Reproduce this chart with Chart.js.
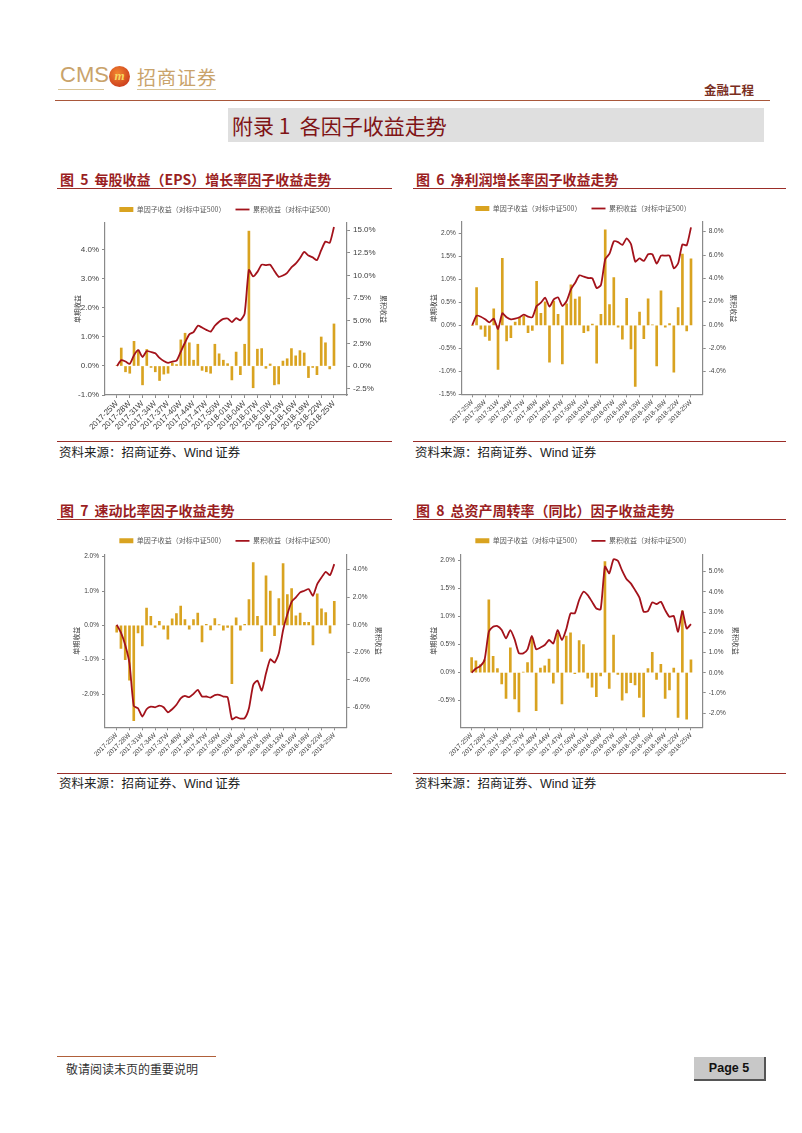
<!DOCTYPE html>
<html>
<head>
<meta charset="utf-8">
<script src="https://cdn.jsdelivr.net/npm/chart.js@4.4.1/dist/chart.umd.min.js"></script>
<style>
  body { margin: 0; background: #fff; }
  #page { position: relative; width: 802px; height: 1133px; overflow: hidden; font-family: "Noto Sans CJK SC", sans-serif; }
  .abs { position: absolute; white-space: nowrap; }
  .fig-title { position: absolute; font-size: 14px; font-weight: bold; color: #9a1e22; line-height: 16px; white-space: nowrap; word-spacing: 3px; }
  .rule { position: absolute; height: 0; border-top: 1px solid #9b2d28; }
  .src { position: absolute; font-size: 12.5px; color: #222; line-height: 14px; white-space: nowrap; }
  .src span { font-family: "Liberation Sans", sans-serif; }
  canvas { position: absolute; }
</style>
</head>
<body>
<div id="page">
  <!-- header -->
  <div class="abs" style="left:60px;top:62px;font:22px 'Liberation Sans Narrow','Liberation Sans',sans-serif;color:#c9a36b;">CMS</div>
  <div class="abs" style="left:109px;top:66px;width:21px;height:21px;border-radius:50%;background:radial-gradient(circle at 40% 35%,#f3862e,#c0281a);color:#f8d860;font:italic bold 13px 'Liberation Serif',serif;text-align:center;line-height:20px;">m</div>
  <div class="abs" style="left:137px;top:63px;font-size:19px;color:#c9a36b;letter-spacing:1px;">招商证券</div>
  <div class="rule" style="left:58px;top:89px;width:46px;border-color:#d9c596;"></div>
  <div class="rule" style="left:137px;top:89px;width:79px;border-color:#d9c596;"></div>
  <div class="abs" style="left:704px;top:80px;font-size:12.5px;font-weight:bold;color:#7a2e1e;">金融工程</div>
  <div class="rule" style="left:55px;top:100px;width:715px;border-color:#a9573a;"></div>

  <div class="abs" style="left:228px;top:108px;width:536px;height:34px;background:#dfdfdf;"></div>
  <div class="abs" style="left:232px;top:110px;font-size:21px;line-height:30px;color:#7f1416;">附录 1&nbsp; 各因子收益走势</div>

  <!-- figure 5 / 6 -->
  <div class="fig-title" style="left:60px;top:171px;">图 5 每股收益（EPS）增长率因子收益走势</div>
  <div class="rule" style="left:57px;top:188px;width:335px;"></div>
  <div class="fig-title" style="left:416px;top:171px;">图 6 净利润增长率因子收益走势</div>
  <div class="rule" style="left:413px;top:188px;width:373px;"></div>

  <canvas id="c5" width="340" height="243" style="left:57px;top:195px;"></canvas>
  <canvas id="c6" width="340" height="243" style="left:413px;top:195px;"></canvas>

  <div class="rule" style="left:57px;top:441px;width:335px;"></div>
  <div class="src" style="left:59px;top:445px;">资料来源：招商证券、<span>Wind</span> 证券</div>
  <div class="rule" style="left:413px;top:441px;width:373px;"></div>
  <div class="src" style="left:415px;top:445px;">资料来源：招商证券、<span>Wind</span> 证券</div>

  <!-- figure 7 / 8 -->
  <div class="fig-title" style="left:60px;top:502px;">图 7 速动比率因子收益走势</div>
  <div class="rule" style="left:57px;top:519px;width:335px;"></div>
  <div class="fig-title" style="left:416px;top:502px;">图 8 总资产周转率（同比）因子收益走势</div>
  <div class="rule" style="left:413px;top:519px;width:373px;"></div>

  <canvas id="c7" width="340" height="243" style="left:57px;top:525px;"></canvas>
  <canvas id="c8" width="340" height="243" style="left:413px;top:525px;"></canvas>

  <div class="rule" style="left:57px;top:773px;width:335px;"></div>
  <div class="src" style="left:59px;top:776px;">资料来源：招商证券、<span>Wind</span> 证券</div>
  <div class="rule" style="left:413px;top:773px;width:373px;"></div>
  <div class="src" style="left:415px;top:776px;">资料来源：招商证券、<span>Wind</span> 证券</div>

  <!-- footer -->
  <div class="rule" style="left:57px;top:1056px;width:159px;border-color:#b0603a;"></div>
  <div class="abs" style="left:66px;top:1061px;font-size:12px;line-height:16px;color:#333;">敬请阅读末页的重要说明</div>
  <div class="abs" style="left:694px;top:1057px;width:70px;height:22px;background:#c8c8c8;border-right:2px solid #555;border-bottom:2px solid #555;font:bold 12.5px 'Liberation Sans',sans-serif;line-height:22px;text-align:center;color:#111;">Page 5</div>
</div>

<script>
const weeks = [
  "2017-25W", "2017-26W", "2017-27W", "2017-28W", "2017-29W", "2017-30W", "2017-31W", "2017-32W", "2017-33W",
  "2017-34W", "2017-35W", "2017-36W", "2017-37W", "2017-38W", "2017-39W", "2017-40W", "2017-42W", "2017-43W",
  "2017-44W", "2017-45W", "2017-46W", "2017-47W", "2017-48W", "2017-49W", "2017-50W", "2017-51W", "2017-52W",
  "2018-01W", "2018-02W", "2018-03W", "2018-04W", "2018-05W", "2018-06W", "2018-07W", "2018-08W", "2018-09W",
  "2018-10W", "2018-11W", "2018-12W", "2018-13W", "2018-14W", "2018-15W", "2018-16W", "2018-17W", "2018-18W",
  "2018-19W", "2018-20W", "2018-21W", "2018-22W", "2018-23W", "2018-24W", "2018-25W",
];
// every third week gets a label
const tickIdx = [0, 3, 6, 9, 12, 15, 18, 21, 24, 27, 30, 33, 36, 39, 42, 45, 48, 51];

// 图5 每股收益（EPS）增长率
const epsBars = [
  0.02, 0.62, -0.2, -0.25, 0.85, 0.55, -0.65, 0.57, -0.05, -0.2,
  -0.5, -0.28, -0.25, 0.1, 0.05, 0.9, 1.13, 0.8, 0.2, 0.75,
  -0.15, -0.2, -0.25, 0.75, 0.42, 0.2, 0.08, -0.48, 0.48, -0.3,
  0.75, 4.65, -0.75, 0.58, 0.6, -0.08, 0.07, -0.65, -0.62, 0.17,
  0.25, 0.6, 0.35, 0.53, 0.45, -0.4, -0.05, -0.3, 1.0, 0.8,
  -0.1, 1.45,
];
const epsLine = [
  0, 0.65, 0.5, 0.25, 1.2, 1.75, 1.0, 1.65, 1.55, 1.4,
  0.9, 0.55, 0.35, 0.5, 0.6, 1.6, 2.6, 3.5, 3.75, 4.45,
  4.25, 4.0, 3.8, 4.45, 4.9, 5.2, 5.25, 4.85, 5.3, 5.05,
  5.8, 10.6, 9.9, 10.4, 11.2, 11.15, 11.2, 10.5, 9.85, 10.0,
  10.3, 10.9, 11.3, 11.9, 12.6, 12.2, 12.0, 11.7, 12.8, 13.75,
  13.6, 15.35,
];

// 图6 净利润增长率
const npBars = [
  0.0, 0.82, -0.08, -0.24, -0.33, 0.36, -0.96, 1.46, -0.34, -0.27,
  0.07, 0.17, 0.2, -0.16, -0.11, 0.96, 0.26, 0.51, -0.8, 0.53,
  0.24, -0.84, 0.47, 0.88, 0.57, 0.62, -0.16, -0.12, 0.03, -0.82,
  0.24, 2.08, 0.45, 1.04, -0.04, -0.3, 0.59, -0.51, -1.33, 0.29,
  -0.29, 0.58, 0.01, -0.88, 0.75, -0.04, 0.04, -1.02, 0.39, 1.55,
  -0.12, 1.45,
];
const npLine = [
  0, 0.8, 0.71, 0.49, 0.23, 0.54, -0.34, 1.0, 0.66, 0.49,
  0.54, 0.66, 0.89, 0.71, 0.66, 1.63, 1.91, 2.34, 1.57, 2.2,
  2.37, 1.63, 2.06, 3.06, 3.63, 4.26, 4.14, 4.03, 4.0, 3.17,
  3.43, 5.63, 6.11, 7.17, 7.11, 6.86, 7.43, 6.94, 5.43, 5.71,
  5.49, 6.06, 6.06, 5.26, 5.94, 5.94, 5.94, 4.86, 5.29, 6.91,
  6.83, 8.37,
];

// 图7 速动比率
const qrBars = [
  -0.2, -0.67, -1.0, -1.6, -2.78, -0.22, -0.6, 0.5, 0.26, -0.06,
  0.12, -0.11, -0.4, 0.19, 0.34, 0.56, 0.17, -0.11, 0.17, 0.36,
  -0.48, 0.03, -0.13, 0.2, 0.02, -0.14, -0.06, -1.7, 0.22, -0.14,
  0.03, 0.75, 1.83, 0.26, -0.76, 1.44, 1.0, -0.3, 0.78, 1.8,
  0.9, 1.07, 0.28, 0.36, 0.09, 0.09, -0.57, 0.92, 0.48, 0.37,
  -0.23, 0.7,
];
const qrLine = [
  0, -0.58, -1.47, -2.8, -5.88, -6.05, -6.65, -6.12, -5.93, -5.98,
  -5.86, -5.98, -6.34, -6.12, -5.8, -5.33, -5.16, -5.25, -5.01, -4.72,
  -5.2, -5.2, -5.28, -5.1, -5.08, -5.2, -5.25, -6.84, -6.7, -6.8,
  -6.77, -6.05, -4.36, -4.05, -4.77, -3.52, -2.5, -2.75, -2.07, -0.4,
  0.75, 1.66, 1.98, 2.34, 2.46, 2.58, 2.1, 2.94, 3.42, 3.83,
  3.59, 4.39,
];

// 图8 总资产周转率（同比）
const tatBars = [
  0.27, 0.21, 0.14, 0.23, 1.3, 0.29, 0.07, -0.2, -0.46, 0.44,
  -0.47, -0.7, 0.01, 0.18, 0.63, -0.68, 0.08, 0.12, 0.24, -0.19,
  0.7, -0.56, 0.65, 0.71, -0.02, 0.57, 0.5, -0.1, -0.26, -0.43,
  -0.06, 1.98, -0.28, 0.67, -0.03, -0.49, -0.36, -0.18, -0.22, -0.44,
  -0.79, 0.07, 0.36, -0.12, 0.15, -0.46, -0.31, 0.08, -0.8, 1.1,
  -0.83, 0.23,
];
const tatLine = [
  0, 0.21, 0.33, 0.63, 2.03, 2.28, 2.31, 2.11, 1.7, 2.11,
  1.65, 0.96, 0.96, 1.16, 1.82, 1.16, 1.25, 1.37, 1.62, 1.45,
  2.11, 1.62, 2.15, 2.94, 2.94, 3.6, 4.01, 3.84, 3.51, 3.18,
  3.14, 5.25, 4.92, 5.61, 5.54, 5.05, 4.64, 4.42, 4.09, 3.73,
  3.02, 3.05, 3.48, 3.4, 3.51, 3.1, 2.77, 2.81, 2.03, 3.05,
  2.19, 2.41,
];

const GOLD = "#d9a320";
const RED = "#a3121b";
const AXIS = "#8a8a8a";
const TXT = "#404040";
const LAT = "'Liberation Sans', 'Noto Sans CJK SC', sans-serif";
const CJK = "'Noto Sans CJK SC', sans-serif";

const pct = (v) => v.toFixed(1) + "%";

function makeChart(id, bars, line, o) {
  return new Chart(document.getElementById(id), {
    type: "bar",
    data: {
      datasets: [
        {
          type: "bar",
          label: "单因子收益（对标中证500）",
          data: bars.map((v, i) => ({ x: i, y: v })),
          backgroundColor: GOLD,
          barThickness: 2,
          yAxisID: "y",
          order: 1,
          pointStyle: "rect",
        },
        {
          type: "line",
          label: "累积收益（对标中证500）",
          data: line.map((v, i) => ({ x: i, y: v })),
          borderColor: RED,
          borderWidth: 1.8,
          pointRadius: 0,
          pointBorderColor: RED,
          pointBorderWidth: 1.8,
          pointStyle: "line",
          tension: 0.2,
          yAxisID: "y1",
          order: 0,
        },
      ],
    },
    options: {
      responsive: false,
      animation: false,
      layout: { padding: { top: o.padTop } },
      plugins: {
        tooltip: { enabled: false },
        legend: {
          labels: {
            usePointStyle: true,
            pointStyleWidth: 14,
            boxHeight: 5,
            padding: 10,
            color: "#595959",
            font: { size: 7, family: CJK },
            sort: (a, b) => a.datasetIndex - b.datasetIndex,
          },
        },
      },
      scales: {
        x: {
          type: "linear",
          min: o.xMin,
          max: o.xMax,
          offset: false,
          afterBuildTicks: (s) => {
            s.ticks = tickIdx.map((v) => ({ value: v }));
          },
          afterFit: (s) => {
            s.height = o.bottomH;
          },
          grid: { offset: false, drawOnChartArea: false, tickLength: 3, color: AXIS },
          border: { color: AXIS, width: 1.2 },
          ticks: {
            autoSkip: false,
            maxRotation: 45,
            minRotation: 45,
            padding: 1,
            color: TXT,
            font: { size: o.xfs, family: LAT },
            callback: (v) => weeks[v],
          },
        },
        y: {
          position: "left",
          min: o.yMin,
          max: o.yMax,
          afterFit: (s) => {
            s.width = o.leftW;
          },
          grid: { drawOnChartArea: false, tickLength: 3, color: AXIS },
          border: { color: AXIS, width: 1.2 },
          ticks: {
            stepSize: o.yStep,
            includeBounds: false,
            padding: 3,
            color: TXT,
            font: { size: o.fs, family: LAT },
            callback: pct,
          },
          title: {
            display: true,
            text: "单期收益",
            color: TXT,
            font: { size: 7, family: CJK },
            padding: { top: o.lTitle, bottom: 0 },
          },
        },
        y1: {
          position: "right",
          min: o.y1Min,
          max: o.y1Max,
          afterFit: (s) => {
            s.width = o.rightW;
          },
          grid: { drawOnChartArea: false, tickLength: 3, color: AXIS },
          border: { color: AXIS, width: 1.2 },
          ticks: {
            stepSize: o.y1Step,
            includeBounds: false,
            padding: 3,
            color: TXT,
            font: { size: o.fs, family: LAT },
            callback: pct,
          },
          title: {
            display: true,
            text: "累积收益",
            color: TXT,
            font: { size: 7, family: CJK },
            padding: { top: o.rTitle, bottom: 0 },
          },
        },
      },
    },
  });
}

makeChart("c5", epsBars, epsLine, {
  padTop: 1, xMin: -2.82, xMax: 54.06, bottomH: 43, leftW: 48, rightW: 50,
  yMin: -1.0, yMax: 4.93, yStep: 1, y1Min: -3.2, y1Max: 15.8, y1Step: 2.5,
  fs: 8, xfs: 8, lTitle: 16, rTitle: 9.5,
});
makeChart("c6", npBars, npLine, {
  padTop: 0, xMin: -2.47, xMax: 53.73, bottomH: 43.7, leftW: 48.7, rightW: 50.3,
  yMin: -1.5, yMax: 2.25, yStep: 0.5, y1Min: -5.94, y1Max: 8.83, y1Step: 2,
  fs: 6.5, xfs: 6.5, lTitle: 16, rTitle: 15,
});
makeChart("c7", qrBars, qrLine, {
  padTop: 2.3, xMin: -2.74, xMax: 53.91, bottomH: 40.7, leftW: 48, rightW: 50.3,
  yMin: -2.97, yMax: 2.07, yStep: 1, y1Min: -7.43, y1Max: 5.1, y1Step: 2,
  fs: 6.5, xfs: 6.5, lTitle: 15.5, rTitle: 14,
});
makeChart("c8", tatBars, tatLine, {
  padTop: 2.3, xMin: -2.47, xMax: 53.73, bottomH: 40.7, leftW: 48, rightW: 50.3,
  yMin: -0.975, yMax: 2.11, yStep: 0.5, y1Min: -2.7, y1Max: 5.86, y1Step: 1,
  fs: 6.5, xfs: 6.5, lTitle: 16, rTitle: 13,
});
</script>
</body>
</html>
